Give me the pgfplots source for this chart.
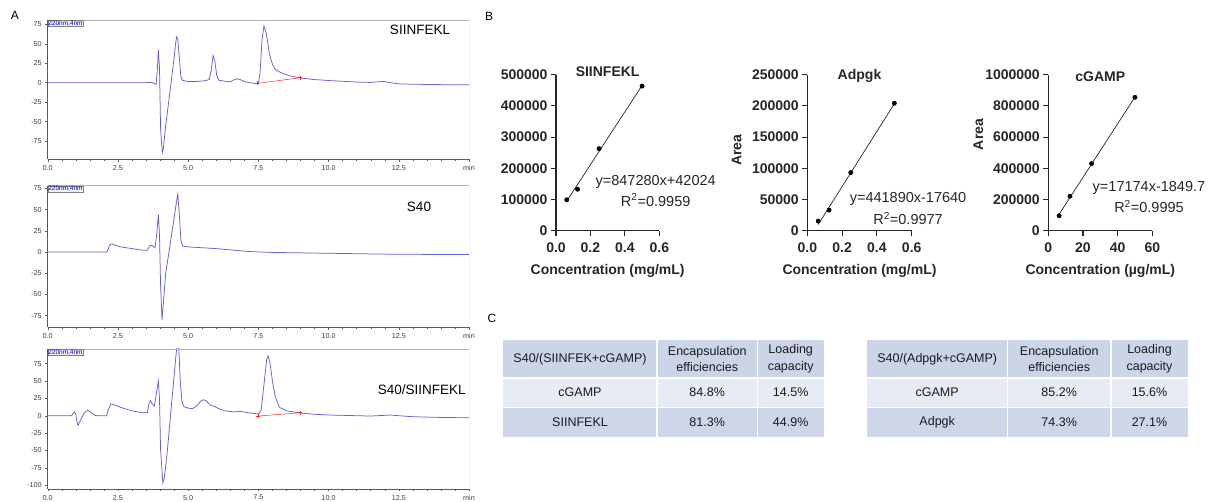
\documentclass[border=0pt]{standalone}
\usepackage{fontspec}
\setmainfont{Liberation Sans}
\usepackage{pgfplots}
\pgfplotsset{compat=1.18}
\definecolor{chromblue}{RGB}{96,96,214}
\definecolor{hdr}{RGB}{204,213,232}
\definecolor{rowa}{RGB}{231,235,245}
\definecolor{rowb}{RGB}{206,215,234}
\newcommand{\fs}[1]{\fontsize{#1}{#1}\selectfont}
\tikzset{caltitle/.style={font=\bfseries\fs{14}, text=black!85, anchor=center}}
\pgfplotsset{
 chromaxis/.style={scale only axis, width=421.3pt, xmin=0, xmax=15, clip=true,
  axis x line*=bottom, axis y line*=left,
  axis line style={-, draw=black!65, line width=0.5pt},
  xtick={0,2.5,5,7.5,10,12.5,15}, xticklabels={0.0,2.5,5.0,7.5,10.0,12.5,min},
  minor x tick num=4, tick align=outside, tick style={draw=black!65, line width=0.4pt},
  major tick length=2.5pt, minor tick length=1.8pt,
  tick label style={font=\fs{7.2}, text=black!75},
 },
 calaxis/.style={scale only axis, height=156pt, ymin=0, xmin=0, clip=false,
  axis x line*=bottom, axis y line*=left,
  axis line style={-, draw=black!85, line width=1.1pt},
  tick align=outside, major tick length=5pt, tick style={draw=black!85, line width=1.1pt},
  scaled ticks=false,
  /pgf/number format/assume math mode=true,
  yticklabel style={/pgf/number format/fixed, /pgf/number format/1000 sep={}},
  xticklabel style={/pgf/number format/fixed, /pgf/number format/fixed zerofill, /pgf/number format/precision=1},
  tick label style={font=\bfseries\fs{14}, text=black!85},
  xticklabel style={yshift=-3.5pt},
  xlabel style={at={(axis description cs:0.5,0)}, anchor=center, yshift=-40pt, font=\bfseries\fs{14}, text=black!85},
  ylabel style={font=\bfseries\fs{14}, text=black!85, anchor=center},
 },
}
\begin{document}
\begin{tikzpicture}[x=1pt,y=1pt]
\path[use as bounding box] (0,0) rectangle (1210,502);
% ---------------- Panel A ----------------
\node[font=\fs{12}] at (15,487) {A};
\begin{axis}[chromaxis, at={(47.7pt,342.7pt)}, anchor=south west, height=139.3pt,
  ymin=-98.5, ymax=80.6, ytick={-75,-50,-25,0,25,50,75}, yticklabels={-75,-50,-25,0,25,50,75}]
\addplot[chromblue, line width=0.75pt] coordinates {
(0,0) (1,0) (2,0) (3,0) (3.5,0) (3.7,0.5) (3.8,-1) (3.86,-2) (3.9,15) (3.94,42) (3.98,20)
(4.02,-60) (4.08,-90) (4.12,-84) (4.2,-55) (4.3,-27) (4.4,2) (4.5,32) (4.56,52) (4.59,59) (4.63,56)
(4.68,35) (4.74,8) (4.8,3) (5.0,1.5) (5.3,1.5) (5.6,2.5) (5.75,4) (5.82,16) (5.89,35) (5.95,28)
(6.02,9) (6.1,3) (6.3,2) (6.5,1) (6.62,3.5) (6.72,5) (6.85,4) (7.0,1.5) (7.2,0) (7.4,-1) (7.5,-1)
(7.56,12) (7.63,55) (7.70,73) (7.78,64) (7.9,36) (8.0,24) (8.1,17) (8.3,13) (8.6,9) (9.0,6)
(9.5,4) (10.0,2.8) (10.5,1.8) (11.0,0.8) (11.5,0.3) (11.8,1.2) (11.95,1.7) (12.2,0) (12.5,-1.5)
(13,-2) (14,-2.5) (15,-2.6)};
\addplot[red!85, line width=0.5pt, mark=+, mark size=2pt] coordinates {(7.46,-1) (9.0,6.4)};
\draw[black!30, line width=0.5pt] (rel axis cs:0,1) -- (rel axis cs:1,1) -- (rel axis cs:1,0);
\node[anchor=north west, draw=black!50, fill=blue!5, inner sep=0.4pt, font=\fs{6.5}, text=blue!80!black] at (rel axis cs:0,1) {220nm,4nm};
\node[anchor=south, font=\fs{6.5}, text=black!75, inner sep=0.5pt] at (rel axis cs:0,1) {mAU};
\end{axis}
\node[font=\fs{13.5}] at (420,472) {SIINFEKL};

\begin{axis}[chromaxis, at={(47.7pt,174.7pt)}, anchor=south west, height=141.6pt,
  ymin=-88.7, ymax=78.1, ytick={-75,-50,-25,0,25,50,75}, yticklabels={-75,-50,-25,0,25,50,75}]
\addplot[chromblue, line width=0.75pt] coordinates {
(0,0) (1,0) (2,0) (2.1,0) (2.15,3) (2.22,9) (2.3,9.5) (2.4,8) (2.6,6) (3.0,4) (3.4,2) (3.55,2)
(3.62,7) (3.68,8) (3.75,7) (3.82,5) (3.88,20) (3.94,44) (3.98,20) (4.02,-40) (4.07,-80) (4.12,-60)
(4.2,-25) (4.3,-4) (4.4,18) (4.5,40) (4.58,58) (4.63,68) (4.68,48) (4.74,15) (4.8,7) (5.0,6)
(5.5,5) (6.0,4) (6.5,2.5) (7.0,1) (7.5,0) (8.0,-0.5) (9.0,-1) (10,-1.5) (11,-2) (12,-2.5)
(13,-2.7) (14,-3) (15,-3)};
\draw[black!30, line width=0.5pt] (rel axis cs:0,1) -- (rel axis cs:1,1) -- (rel axis cs:1,0);
\node[anchor=north west, draw=black!50, fill=blue!5, inner sep=0.4pt, font=\fs{6.5}, text=blue!80!black] at (rel axis cs:0,1) {220nm,4nm};
\node[anchor=south, font=\fs{6.5}, text=black!75, inner sep=0.5pt] at (rel axis cs:0,1) {mAU};
\end{axis}
\node[font=\fs{13.5}] at (419,295.3) {S40};

\begin{axis}[chromaxis, at={(47.7pt,13pt)}, anchor=south west, height=140pt,
  ymin=-105.7, ymax=96.2, ytick={-100,-75,-50,-25,0,25,50,75}, yticklabels={-100,-75,-50,-25,0,25,50,75}]
\addplot[chromblue, line width=0.75pt] coordinates {
(0,0) (0.85,0) (0.9,3) (0.95,5.5) (1.0,2) (1.05,-10) (1.08,-14) (1.15,-8) (1.3,4) (1.42,8)
(1.5,6) (1.65,1) (1.75,0) (2.1,0) (2.15,8) (2.25,17) (2.35,16) (2.6,12) (3.0,7) (3.4,4)
(3.55,5) (3.62,20) (3.66,22) (3.72,17) (3.8,14) (3.86,30) (3.94,50) (3.98,25) (4.02,-50)
(4.1,-97) (4.15,-90) (4.25,-55) (4.35,-10) (4.45,35) (4.55,80) (4.62,108) (4.67,95) (4.72,50)
(4.78,20) (4.85,13) (5.0,11) (5.15,10) (5.3,14) (5.45,21) (5.55,23) (5.65,21) (5.8,15)
(5.95,13) (6.1,10) (6.3,7) (6.5,6) (6.7,5.5) (6.85,6.5) (6.95,5.5) (7.2,4) (7.5,2.5) (7.6,8)
(7.7,45) (7.8,82) (7.85,86) (7.92,75) (8.0,50) (8.1,28) (8.25,12) (8.5,7) (9.0,4) (9.5,2)
(10.0,1) (11.0,0) (11.5,-0.5) (12.0,0.5) (12.2,1) (12.5,0) (13,-1.5) (14,-2.5) (15,-3)};
\addplot[red!85, line width=0.5pt, mark=+, mark size=2pt] coordinates {(7.5,-0.5) (9.0,4.3)};
\draw[black!30, line width=0.5pt] (rel axis cs:0,1) -- (rel axis cs:1,1) -- (rel axis cs:1,0);
\node[anchor=north west, draw=black!50, fill=blue!5, inner sep=0.4pt, font=\fs{6.5}, text=blue!80!black] at (rel axis cs:0,1) {220nm,4nm};
\node[anchor=south, font=\fs{6.5}, text=black!75, inner sep=0.5pt] at (rel axis cs:0,1) {mAU};
\end{axis}
\node[font=\fs{13.5}] at (421.7,112) {S40/SIINFEKL};

% ---------------- Panel B ----------------
\node[font=\fs{12}] at (489,486) {B};
\begin{axis}[calaxis, at={(556pt,271.3pt)}, anchor=south west, width=103.3pt,
  xmax=0.6, ymax=500000, xtick={0,0.2,0.4,0.6},
  ytick={0,100000,200000,300000,400000,500000},
  xlabel={Concentration (mg/mL)}]
\addplot[black!85, line width=0.7pt] coordinates {(0.0625,94979) (0.5,465664)};
\addplot[only marks, mark=*, mark size=2.2pt, black] coordinates {(0.0625,99000) (0.125,133000) (0.25,263000) (0.5,463500)};
\node[caltitle] at (axis description cs:0.5,1.02) {SIINFEKL};
\node[font=\fs{14.5}, text=black!85] at (axis description cs:0.965,0.314) {y=847280x+42024};
\node[font=\fs{14.5}, text=black!85] at (axis description cs:0.965,0.197) {R\textsuperscript{2}=0.9959};
\end{axis}

\begin{axis}[calaxis, at={(807.3pt,271.3pt)}, anchor=south west, width=104.4pt,
  xmax=0.6, ymax=250000, xtick={0,0.2,0.4,0.6},
  ytick={0,50000,100000,150000,200000,250000},
  xlabel={Concentration (mg/mL)}, ylabel={Area},
  ylabel style={at={(axis description cs:-0.676,0.515)}}]
\addplot[black!85, line width=0.7pt] coordinates {(0.0625,9978) (0.5,203305)};
\addplot[only marks, mark=*, mark size=2.2pt, black] coordinates {(0.0625,15400) (0.125,33000) (0.25,93200) (0.5,204200)};
\node[caltitle] at (axis description cs:0.5,0.995) {Adpgk};
\node[font=\fs{14.5}, text=black!85] at (axis description cs:0.965,0.201) {y=441890x-17640};
\node[font=\fs{14.5}, text=black!85] at (axis description cs:0.965,0.079) {R\textsuperscript{2}=0.9977};
\end{axis}

\begin{axis}[calaxis, at={(1048.3pt,271.3pt)}, anchor=south west, width=104pt,
  xmax=60, ymax=1000000, xtick={0,20,40,60},
  xticklabel style={/pgf/number format/fixed, /pgf/number format/precision=0, /pgf/number format/fixed zerofill=false},
  ytick={0,200000,400000,600000,800000,1000000},
  xlabel={Concentration (µg/mL)}, ylabel={Area},
  ylabel style={at={(axis description cs:-0.673,0.617)}}]
\addplot[black!85, line width=0.7pt] coordinates {(6.25,105488) (50,856850)};
\addplot[only marks, mark=*, mark size=2.2pt, black] coordinates {(6.25,95700) (12.5,221000) (25,430000) (50,855000)};
\node[caltitle] at (axis description cs:0.5,0.99) {cGAMP};
\node[font=\fs{14.5}, text=black!85] at (axis description cs:0.968,0.276) {y=17174x-1849.7};
\node[font=\fs{14.5}, text=black!85] at (axis description cs:0.968,0.154) {R\textsuperscript{2}=0.9995};
\end{axis}

% ---------------- Panel C ----------------
\node[font=\fs{12}] at (492,184) {C};
\begin{scope}[every node/.style={font=\fontsize{12.5}{16.5}\selectfont, text=black!90, align=center}]
% left table
\fill[hdr] (503,124) rectangle (824,162);
\fill[rowa] (503,94.5) rectangle (824,124);
\fill[rowb] (503,65.3) rectangle (824,94.5);
\draw[white, line width=1.5pt] (657,65.3) -- (657,162) (757.5,65.3) -- (757.5,162)
  (503,124) -- (824,124) (503,94.5) -- (824,94.5);
\node at (580,143) {S40/(SIINFEK+cGAMP)};
\node at (707.2,143) {Encapsulation\\efficiencies};
\node at (790.7,143) {Loading\\capacity};
\node at (580,109.3) {cGAMP};
\node at (707.2,109.3) {84.8\%};
\node at (790.7,109.3) {14.5\%};
\node at (580,80) {SIINFEKL};
\node at (707.2,80) {81.3\%};
\node at (790.7,80) {44.9\%};
% right table
\fill[hdr] (867,124) rectangle (1188,162);
\fill[rowa] (867,94.5) rectangle (1188,124);
\fill[rowb] (867,65.3) rectangle (1188,94.5);
\draw[white, line width=1.5pt] (1007.5,65.3) -- (1007.5,162) (1111,65.3) -- (1111,162)
  (867,124) -- (1188,124) (867,94.5) -- (1188,94.5);
\node at (937.2,143) {S40/(Adpgk+cGAMP)};
\node at (1059.2,143) {Encapsulation\\efficiencies};
\node at (1149.5,143) {Loading\\capacity};
\node at (937.2,109.3) {cGAMP};
\node at (1059.2,109.3) {85.2\%};
\node at (1149.5,109.3) {15.6\%};
\node at (937.2,80) {Adpgk};
\node at (1059.2,80) {74.3\%};
\node at (1149.5,80) {27.1\%};
\end{scope}
\end{tikzpicture}
\end{document}
